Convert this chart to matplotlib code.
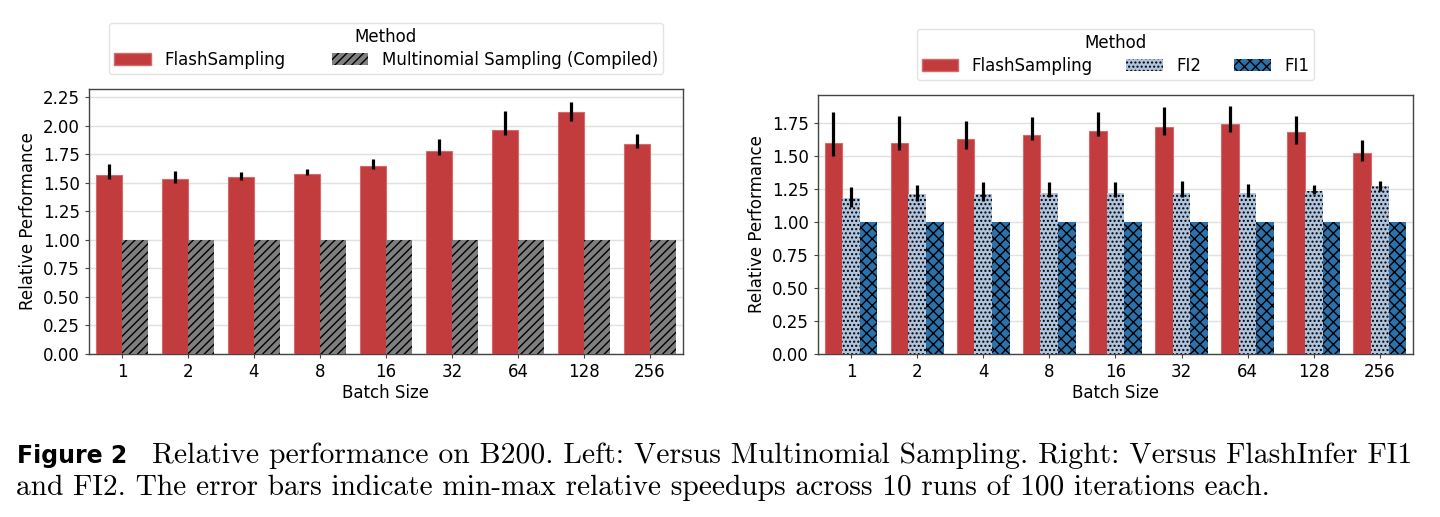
import numpy as np
import matplotlib.pyplot as plt
from matplotlib.patches import Patch

batch_sizes = ['1', '2', '4', '8', '16', '32', '64', '128', '256']

# left panel: FlashSampling vs compiled multinomial sampling
left_flash = [1.57, 1.53, 1.55, 1.58, 1.65, 1.78, 1.96, 2.12, 1.84]
left_flash_min = [1.53, 1.50, 1.52, 1.57, 1.62, 1.74, 1.92, 2.04, 1.80]
left_flash_max = [1.66, 1.60, 1.59, 1.62, 1.71, 1.88, 2.13, 2.21, 1.93]
left_multi = [1.0] * 9

# right panel: FlashSampling vs FlashInfer FI2 / FI1
right_flash = [1.60, 1.60, 1.63, 1.66, 1.69, 1.72, 1.74, 1.68, 1.52]
right_flash_min = [1.50, 1.54, 1.55, 1.62, 1.65, 1.66, 1.68, 1.59, 1.46]
right_flash_max = [1.83, 1.80, 1.76, 1.79, 1.83, 1.87, 1.88, 1.80, 1.62]
right_fi2 = [1.18, 1.21, 1.21, 1.22, 1.22, 1.22, 1.22, 1.23, 1.27]
right_fi2_min = [1.11, 1.16, 1.16, 1.19, 1.19, 1.19, 1.19, 1.21, 1.23]
right_fi2_max = [1.26, 1.28, 1.30, 1.30, 1.30, 1.31, 1.29, 1.28, 1.31]
right_fi1 = [1.0] * 9

RED = '#c23b3d'
GREY = '#7f7f7f'
LIGHT = '#b0c4de'
BLUE = '#2b72ad'

plt.rcParams['font.family'] = 'DejaVu Sans'
plt.rcParams['hatch.linewidth'] = 1.0


def style_axes(ax):
    ax.set_axisbelow(True)
    ax.yaxis.grid(True, color='#e0e0e0', linewidth=1)
    for s in ax.spines.values():
        s.set_color('#444444')
        s.set_linewidth(1.0)
    ax.tick_params(labelsize=12, length=3, color='#444444')
    ax.set_xlabel('Batch Size', fontsize=12, labelpad=2)
    ax.set_ylabel('Relative Performance', fontsize=12)
    ax.set_xticks(np.arange(len(batch_sizes)))
    ax.set_xticklabels(batch_sizes)
    ax.set_xlim(-0.5, len(batch_sizes) - 0.5)


def errbars(ax, x, lo, hi):
    ax.vlines(x, lo, hi, color='black', linewidth=2.3, zorder=4)


def add_legend(ax, handles, ncol, colsp):
    leg = ax.legend(handles=handles, title='Method', ncol=ncol, loc='lower center',
                    bbox_to_anchor=(0.5, 1.025), fontsize=12, title_fontsize=12,
                    frameon=True, columnspacing=colsp, handlelength=2.2,
                    borderpad=0.3, labelspacing=0.3)
    leg.get_frame().set_edgecolor('#dddddd')


fig = plt.figure(figsize=(14.4, 5.17), dpi=100)
x = np.arange(len(batch_sizes))

# ---- left
ax1 = fig.add_axes([0.0618, 0.3153, 0.4125, 0.5126])
w = 0.4
ax1.bar(x - w / 2, left_flash, w, color=RED, edgecolor='#d46a6a', linewidth=0.8, zorder=3)
ax1.bar(x + w / 2, left_multi, w, color=GREY, hatch='////', edgecolor='black',
        linewidth=0, zorder=3)
errbars(ax1, x - w / 2, left_flash_min, left_flash_max)
style_axes(ax1)
ax1.set_ylim(0, 2.32)
ax1.set_yticks(np.arange(0, 2.26, 0.25))
h1 = [Patch(facecolor=RED, edgecolor='#d46a6a', label='FlashSampling'),
      Patch(facecolor=GREY, hatch='////', edgecolor='black', linewidth=0,
            label='Multinomial Sampling (Compiled)')]
add_legend(ax1, h1, 2, 2.8)

# ---- right
ax2 = fig.add_axes([0.568, 0.3153, 0.4132, 0.501])
w = 0.8 / 3
ax2.bar(x - w, right_flash, w, color=RED, edgecolor='#d46a6a', linewidth=0.8, zorder=3)
ax2.bar(x, right_fi2, w, color=LIGHT, hatch='....', edgecolor='black', linewidth=0, zorder=3)
ax2.bar(x + w, right_fi1, w, color=BLUE, hatch='xxx', edgecolor='black', linewidth=0, zorder=3)
errbars(ax2, x - w, right_flash_min, right_flash_max)
errbars(ax2, x, right_fi2_min, right_fi2_max)
style_axes(ax2)
ax2.set_ylim(0, 1.96)
ax2.set_yticks(np.arange(0, 1.76, 0.25))
h2 = [Patch(facecolor=RED, edgecolor='#d46a6a', label='FlashSampling'),
      Patch(facecolor=LIGHT, hatch='....', edgecolor='black', linewidth=0, label='FI2'),
      Patch(facecolor=BLUE, hatch='xxx', edgecolor='black', linewidth=0, label='FI1')]
add_legend(ax2, h2, 3, 2.0)

# ---- caption
fig.text(0.012, 1 - 463 / 517, 'Figure 2', fontsize=17, fontweight='bold',
         family='DejaVu Sans', va='baseline')
fig.text(0.1055, 1 - 463 / 517,
         'Relative performance on B200. Left: Versus Multinomial Sampling. '
         'Right: Versus FlashInfer FI1', fontsize=21.4, family='cmr10', va='baseline')
fig.text(0.011, 1 - 495 / 517,
         'and FI2. The error bars indicate min-max relative speedups across '
         '10 runs of 100 iterations each.', fontsize=21.2, family='cmr10', va='baseline')

fig.savefig('out.png', dpi=100)
